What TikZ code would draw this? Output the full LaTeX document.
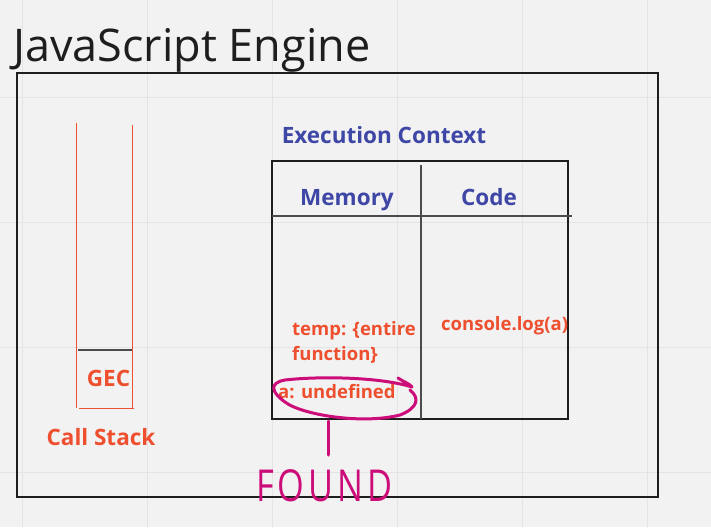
\documentclass[tikz,border=0pt]{standalone}
\usepackage{fontspec}
\setmainfont{Open Sans}
\newfontfamily\handfont[LetterSpace=12]{Open Sans}
\definecolor{bg}{HTML}{F2F2F2}
\definecolor{gridc}{HTML}{E4E4E4}
\definecolor{redo}{HTML}{EE4F2E}
\definecolor{blu}{HTML}{3E47A6}
\definecolor{mag}{HTML}{CC0C78}
\definecolor{ink}{HTML}{1E1E1E}
\tikzset{
  boxline/.style={draw=ink, line width=2pt},
  thinline/.style={draw=ink!80, line width=1.2pt},
  stackline/.style={draw=redo, line width=1pt},
  redlbl/.style={text=redo, font=\bfseries\fontsize{18.5}{22}\selectfont, anchor=base west, inner sep=0pt},
  bluelbl/.style={text=blu, font=\bfseries\fontsize{22.5}{26}\selectfont, anchor=base, inner sep=0pt},
  handline/.style={draw=mag, line width=3pt, line cap=round, line join=round},
}
\begin{document}
\begin{tikzpicture}[x=1pt,y=-1pt]
\fill[bg] (0,0) rectangle (711,527);
\useasboundingbox (0,0) rectangle (711,527);
% grid
\foreach \gx in {22,147,272,397,522,647} \draw[gridc, line width=1pt] (\gx,0) -- (\gx,527);
\foreach \gy in {97,222,347,472} \draw[gridc, line width=1pt] (0,\gy) -- (711,\gy);
% title
\node[anchor=base west, inner sep=0pt, text=ink, font=\fontsize{45}{50}\selectfont] (title) at (13,61) {JavaScript Engine};
% engine box
\draw[boxline] (17,73) rectangle (658,497);
% call stack
\coordinate (sl1) at (76,123); \coordinate (sl2) at (76,408);
\coordinate (sr1) at (132,125); \coordinate (sr2) at (132,408);
\draw[stackline] (sl1) -- (sl2);
\draw[stackline] (sr1) -- (sr2);
\coordinate (sb1) at (79,408); \coordinate (sb2) at (134,408);
\draw[stackline] (sb1) -- (sb2);
\coordinate (sg1) at (78,350); \coordinate (sg2) at (132,350);
\draw[thinline] (sg1) -- (sg2);
\node[text=redo, font=\bfseries\fontsize{22.5}{26}\selectfont, anchor=base, inner sep=0pt] (gec) at (108.5,386) {GEC};
\node[text=redo, font=\bfseries\fontsize{22.5}{26}\selectfont, anchor=base, inner sep=0pt] (cs) at (101,445) {Call Stack};
% execution context
\node[bluelbl] (ec) at (384,143) {Execution Context};
\draw[boxline] (272,161) rectangle (568,419);
\coordinate (dv1) at (421,165); \coordinate (dv2) at (421,419);
\draw[thinline] (dv1) -- (dv2);
\coordinate (hz1) at (272,216); \coordinate (hz2) at (572,216);
\draw[thinline] (hz1) -- (hz2);
\node[bluelbl] (mem) at (347,205) {Memory};
\node[bluelbl] (code) at (489,205) {Code};
\node[redlbl] (temp1) at (292,335) {temp: \{entire};
\node[redlbl] (temp2) at (292,360) {function\}};
\node[redlbl] (aund) at (278,398) {a: undefined};
\node[redlbl] (clog) at (441,330) {console.log(a)};
% hand-drawn ellipse
\draw[handline] (398,378) .. controls (404,382) and (410,384) .. (412,387)
  .. controls (380,377) and (320,376) .. (285,380)
  .. controls (268,383) and (272,393) .. (285,402)
  .. controls (300,414) and (360,425) .. (400,415)
  .. controls (418,408) and (420,398) .. (410,390);
\coordinate (f1) at (328,421); \coordinate (f2) at (328,455);
\draw[handline] (f1) -- (f2);
\node[text=mag, font=\handfont\fontsize{44}{50}\selectfont, anchor=base west, inner sep=0pt, xscale=0.78] (found) at (256,501) {FOUND};
\end{tikzpicture}
\end{document}
